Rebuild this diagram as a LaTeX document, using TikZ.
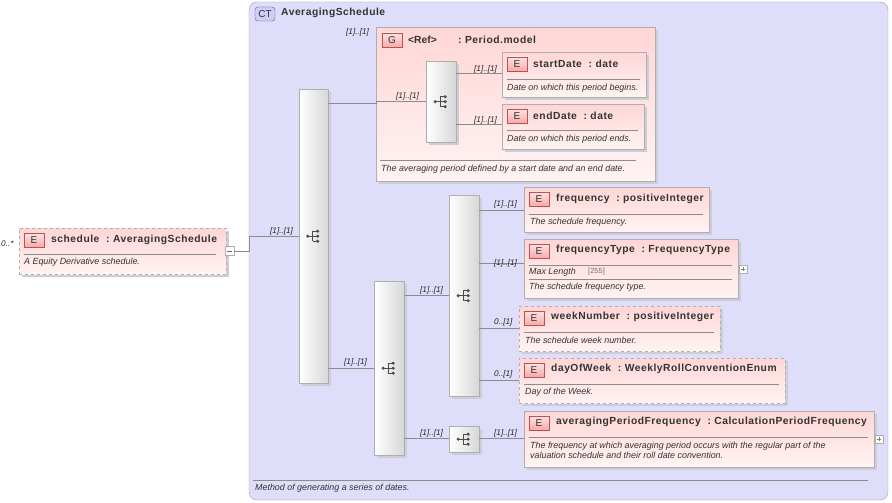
\documentclass[tikz,border=0pt]{standalone}
\usepackage{fontspec}
\setmainfont{Liberation Sans}
\usetikzlibrary{calc}
\definecolor{ctfill}{RGB}{222,222,250}
\definecolor{ctline}{RGB}{160,160,175}
\definecolor{linec}{RGB}{140,140,140}
\definecolor{etop}{RGB}{255,214,214}
\definecolor{ebot}{RGB}{255,243,243}
\definecolor{bdr}{RGB}{175,175,175}
\definecolor{shd}{RGB}{205,205,215}
\tikzset{
 elembox/.style={draw=bdr, top color=etop, bottom color=ebot, inner sep=0pt},
 seqbox/.style={draw=bdr, left color=white, right color={rgb,255:red,215;green,215;blue,215}, inner sep=0pt},
 badge/.style={draw={rgb,255:red,190;green,80;blue,80}, top color={rgb,255:red,255;green,228;blue,228}, bottom color={rgb,255:red,245;green,170;blue,170}, minimum width=20pt, minimum height=14pt, inner sep=0pt, font=\fontsize{10}{11}\selectfont, text=black!80},
 ttl/.style={anchor=west, inner sep=0pt, font=\fontsize{10.3}{11}\selectfont\bfseries\addfontfeature{LetterSpace=5}, text=black!80},
 dsc/.style={anchor=west, inner sep=0pt, font=\fontsize{8.9}{10}\selectfont\itshape, text=black!80, align=left},
 card/.style={anchor=west, inner sep=0pt, font=\fontsize{8.2}{9}\selectfont\itshape, text=black!85},
 conn/.style={draw=linec, line width=0.6pt},
 sepl/.style={draw=linec, line width=0.5pt}
}
\newcommand\ebox[6]{%
 \fill[shd] (#2+3,#3+3) rectangle (#4+3,#5+3);
 \node[elembox,#6,minimum width={#4-#2}, minimum height={#5-#3}, anchor=north west] (#1) at (#2,#3) {};
 \node[badge] (#1b) at (#2+15,#3+12) {E};}
\newcommand\seqbx[5]{%
 \fill[shd] (#2+3,#3+3) rectangle (#4+3,#5+3);
 \node[seqbox,minimum width={#4-#2}, minimum height={#5-#3}, anchor=north west] (#1) at (#2,#3) {};
 \seqicon{#1}}
\newcommand\seqicon[1]{%
 \begin{scope}[shift={(#1.center)}]
 \draw[black!70, line width=0.8pt] (-6,0) -- (-1,0) (-1,-5) -- (-1,5) (-1,-5) -- (4,-5) (-1,5) -- (4,5) (-1,0)--(4,0);
 \fill[black!70] (-6,0) circle (1.7) (4,-5) circle (1.7) (4,0) circle (1.7) (4,5) circle (1.7);
 \end{scope}}
\begin{document}
\begin{tikzpicture}[x=1pt,y=-1pt]
\useasboundingbox (0,0) rectangle (892,503);
% CT box
\draw[draw=ctline, fill=ctfill, rounded corners=8pt] (249,2) rectangle (888,500);
\node[draw={rgb,255:red,90;green,90;blue,160}, fill={rgb,255:red,205;green,205;blue,245}, rounded corners=3pt, minimum width=20pt, minimum height=14pt, inner sep=0pt, font=\fontsize{10}{11}\selectfont, text=black!80] (ctb) at (265,14) {CT};
\node[ttl] (ctt) at (281,13) {AveragingSchedule};
\draw[sepl] (253,480) -- (868,480);
\node[dsc] (ctd) at (255,488) {Method of generating a series of dates.};
% schedule
\ebox{sch}{19}{228}{226}{274}{dashed}
\node[ttl] at (51,240) {schedule~~:~AveragingSchedule};
\draw[sepl] (24,254) -- (216,254);
\node[dsc] at (24,262) {A Equity Derivative schedule.};
\node[card] at (1,244) {0..*};
\node[draw=bdr, fill=white, minimum size=9pt, inner sep=0pt] (minus) at (229.5,251) {};
\draw[black!60] (227,251) -- (232,251);
% G box
\fill[shd] (379,30) rectangle (658,184);
\node[elembox, minimum width=279pt, minimum height=154pt, anchor=north west] (grp) at (376,27) {};
\node[badge] (gb) at (392,40) {G};
\node[anchor=west, inner sep=0pt, font=\fontsize{10.3}{11}\selectfont\bfseries, text=black!80] at (408,40) {<Ref>};
\node[ttl] at (458,40) {:~Period.model};
\draw[sepl] (380,160) -- (636,160);
\node[dsc] at (381,169) {The averaging period defined by a start date and an end date.};
\node[card] at (346,32) {[1]..[1]};
% sequences
\seqbx{s1}{299}{89}{328}{383}
\seqbx{s0}{426}{61}{456}{142}
\seqbx{s2}{374}{281}{404}{455}
\seqbx{s3}{449}{195}{479}{396}
\seqbx{s4}{449}{426}{479}{452}
% elements
\ebox{sd}{502}{52}{646}{97}{}
\node[ttl] at (533,64) {startDate~~:~date};
\draw[sepl] (507,79) -- (640,79);
\node[dsc] at (507,88) {Date on which this period begins.};
\ebox{ed}{502}{104}{644}{149}{}
\node[ttl] at (533,116) {endDate~~:~date};
\draw[sepl] (507,130) -- (638,130);
\node[dsc] at (507,139) {Date on which this period ends.};
\ebox{fr}{524}{187}{709}{232}{}
\node[ttl] at (556,199) {frequency~~:~positiveInteger};
\draw[sepl] (529,214) -- (703,214);
\node[dsc] at (530,222) {The schedule frequency.};
\ebox{ft}{524}{239}{738}{298}{}
\node[ttl] at (556,250) {frequencyType~~:~FrequencyType};
\draw[sepl] (529,265) -- (732,265);
\node[dsc] at (529,272) {Max Length};
\node[anchor=west, inner sep=0pt, font=\fontsize{7.5}{8}\selectfont, text=black!55] at (588,272) {[255]};
\draw[sepl] (529,279) -- (732,279);
\node[dsc] at (529,287) {The schedule frequency type.};
\node[draw=bdr, fill=white, minimum size=8pt, inner sep=0pt] (p1) at (743,269) {};
\draw[black!50] (741,269) -- (745,269) (743,267) -- (743,271);
\ebox{wn}{519}{306}{720}{351}{dashed}
\node[ttl] at (551,317) {weekNumber~~:~positiveInteger};
\draw[sepl] (524,332) -- (714,332);
\node[dsc] at (525,340) {The schedule week number.};
\ebox{dw}{519}{358}{785}{403}{dashed}
\node[ttl] at (551,369) {dayOfWeek~~:~WeeklyRollConventionEnum};
\draw[sepl] (524,384) -- (779,384);
\node[dsc] at (525,392) {Day of the Week.};
\ebox{ap}{524}{411}{874}{467}{}
\node[ttl] at (556,422) {averagingPeriodFrequency~~:~CalculationPeriodFrequency};
\draw[sepl] (529,437) -- (868,437);
\node[dsc] at (530,450) {The frequency at which averaging period occurs with the regular part of the\\valuation schedule and their roll date convention.};
\node[draw=bdr, fill=white, minimum size=8pt, inner sep=0pt] (p2) at (879,439) {};
\draw[black!50] (877,439) -- (881,439) (879,437) -- (879,441);
% connectors
\draw[conn] (minus.east) -- (249,251) -- (249,236) -- (s1.west |- 0,236);
\node[card] at (270,231) {[1]..[1]};
\draw[conn] (s1.east |- 0,103) -- (376,103) -- (376,101) -- (s0.west |- 0,101);
\node[card] at (396,96) {[1]..[1]};
\draw[conn] (s0.east |- 0,73) -- (sd.west |- 0,73);
\node[card] at (474,69) {[1]..[1]};
\draw[conn] (s0.east |- 0,124) -- (ed.west |- 0,124);
\node[card] at (474,120) {[1]..[1]};
\draw[conn] (s1.east |- 0,368) -- (s2.west |- 0,368);
\node[card] at (344,362) {[1]..[1]};
\draw[conn] (s2.east |- 0,295) -- (s3.west |- 0,295);
\node[card] at (420,290) {[1]..[1]};
\draw[conn] (s2.east |- 0,438) -- (s4.west |- 0,438);
\node[card] at (420,433) {[1]..[1]};
\draw[conn] (s3.east |- 0,210) -- (fr.west |- 0,210);
\node[card] at (494,204) {[1]..[1]};
\draw[conn] (s3.east |- 0,263) -- (ft.west |- 0,263);
\node[card] at (494,263) {[1]..[1]};
\draw[conn] (s3.east |- 0,328) -- (wn.west |- 0,328);
\node[card] at (494,322) {0..[1]};
\draw[conn] (s3.east |- 0,380) -- (dw.west |- 0,380);
\node[card] at (494,374) {0..[1]};
\draw[conn] (s4.east |- 0,438) -- (ap.west |- 0,438);
\node[card] at (494,433) {[1]..[1]};
\end{tikzpicture}
\end{document}
